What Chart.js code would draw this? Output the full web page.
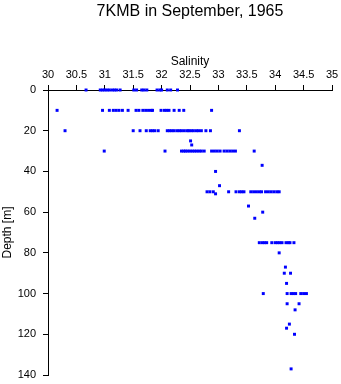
<!DOCTYPE html>
<html>
<head>
<meta charset="utf-8">
<script src="https://cdn.jsdelivr.net/npm/chart.js@4"></script>
<style>
  html, body { margin: 0; padding: 0; background: #fff; }
  #wrap { width: 341px; height: 384px; }
</style>
</head>
<body>
<div id="wrap"><canvas id="ctdChart" width="341" height="384"></canvas></div>
<script>
// Depth levels [m] and the salinity readings taken at each one
const levels = [0, 10, 20, 25, 27, 30, 37, 40, 47, 50, 51, 57, 60, 63, 75, 80, 87, 90, 95, 100, 105, 108, 115, 117, 120, 137];
const salinityByLevel = [
    [30.67, 30.92, 30.96, 31.0, 31.04, 31.08, 31.13, 31.17, 31.21, 31.27, 31.51, 31.56, 31.65, 31.69, 31.74, 31.92, 31.97, 32.0, 32.1, 32.16, 32.28],
    [30.16, 30.96, 31.08, 31.15, 31.2, 31.25, 31.31, 31.41, 31.55, 31.6, 31.67, 31.72, 31.77, 31.82, 31.84, 31.99, 32.05, 32.09, 32.13, 32.22, 32.31, 32.39, 32.88],
    [30.3, 31.5, 31.62, 31.73, 31.8, 31.84, 31.88, 31.94, 32.1, 32.14, 32.18, 32.22, 32.27, 32.31, 32.35, 32.4, 32.45, 32.48, 32.52, 32.56, 32.61, 32.65, 32.7, 32.78, 32.86, 33.37],
    [32.51],
    [32.53],
    [30.99, 32.06, 32.35, 32.39, 32.42, 32.46, 32.5, 32.54, 32.58, 32.62, 32.66, 32.7, 32.75, 32.88, 32.93, 32.98, 33.03, 33.1, 33.15, 33.2, 33.25, 33.3, 33.63],
    [33.77],
    [32.95],
    [33.02],
    [32.8, 32.85, 32.91, 33.18, 33.31, 33.37, 33.41, 33.45, 33.57, 33.62, 33.67, 33.72, 33.76, 33.83, 33.88, 33.93, 33.98, 34.03, 34.07],
    [32.95],
    [33.53],
    [33.78],
    [33.64],
    [33.72, 33.77, 33.81, 33.85, 33.94, 34.0, 34.04, 34.08, 34.12, 34.19, 34.23, 34.26, 34.33],
    [34.07],
    [34.18],
    [34.16, 34.27],
    [34.2],
    [33.79, 34.21, 34.28, 34.32, 34.36, 34.45, 34.5, 34.55],
    [34.21, 34.42],
    [34.35],
    [34.25],
    [34.2],
    [34.34],
    [34.28]
];

const chartTitle = '7KMB in September, 1965';
const xTitle = 'Salinity';
const yTitle = 'Depth [m]';

// Flatten into scatter points
const points = [];
levels.forEach((d, i) => {
    salinityByLevel[i].forEach(s => points.push({ x: s, y: d }));
});

const fontFamily = '"Liberation Sans", Arial, Helvetica, sans-serif';

// Title centred over the plot area rather than the whole canvas
const plotTitle = {
    id: 'plotTitle',
    afterDraw(chart) {
        const { ctx, chartArea } = chart;
        ctx.save();
        ctx.fillStyle = '#000';
        ctx.font = '16px ' + fontFamily;
        ctx.textAlign = 'center';
        ctx.textBaseline = 'middle';
        ctx.fillText(chartTitle, (chartArea.left + chartArea.right) / 2, 12);
        ctx.restore();
    }
};

new Chart(document.getElementById('ctdChart').getContext('2d'), {
    type: 'scatter',
    data: {
        datasets: [{
            label: 'Salinity',
            data: points,
            pointStyle: 'rect',
            pointRadius: 2.1,
            pointHoverRadius: 2.1,
            borderWidth: 0,
            backgroundColor: '#0000ff',
            borderColor: '#0000ff',
            clip: false
        }]
    },
    options: {
        responsive: false,
        animation: false,
        devicePixelRatio: 1,
        layout: { padding: { left: 0, right: 9, top: 0, bottom: 9 } },
        plugins: {
            legend: { display: false },
            tooltip: { enabled: false },
            title: { display: false }
        },
        scales: {
            x: {
                type: 'linear',
                position: 'top',
                min: 30,
                max: 35,
                ticks: {
                    stepSize: 0.5,
                    color: '#000',
                    padding: 3,
                    maxRotation: 0,
                    font: { family: fontFamily, size: 11 },
                    callback: v => String(v)
                },
                grid: { drawOnChartArea: false, tickLength: 5, color: '#000' },
                border: { color: '#000', width: 1 },
                title: {
                    display: true,
                    text: xTitle,
                    color: '#000',
                    font: { family: fontFamily, size: 12 },
                    padding: { top: 54, bottom: 0 }
                },
                afterFit: scale => {
                    scale.height = 90;
                    scale.paddingLeft = 0;
                    scale.paddingRight = 0;
                }
            },
            y: {
                type: 'linear',
                reverse: true,
                min: 0,
                max: 140,
                ticks: {
                    stepSize: 20,
                    color: '#000',
                    padding: 7,
                    font: { family: fontFamily, size: 11 }
                },
                grid: { drawOnChartArea: false, tickLength: 5, color: '#000' },
                border: { color: '#000', width: 1 },
                title: {
                    display: true,
                    text: yTitle,
                    color: '#000',
                    font: { family: fontFamily, size: 12 },
                    padding: { top: 0, bottom: 0 }
                },
                afterFit: scale => {
                    scale.width = 48;
                    scale.paddingTop = 0;
                    scale.paddingBottom = 0;
                }
            }
        }
    },
    plugins: [plotTitle]
});
</script>
</body>
</html>
